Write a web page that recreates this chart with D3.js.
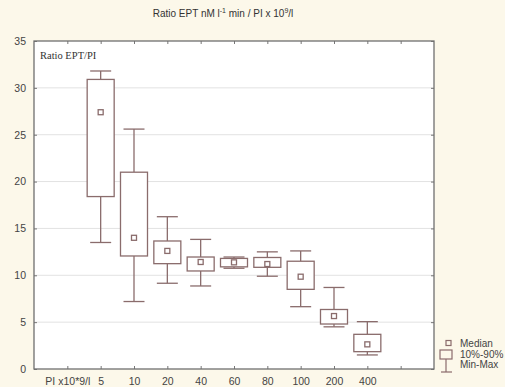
<!DOCTYPE html>
<html><head><meta charset="utf-8">
<script src="https://cdn.jsdelivr.net/npm/d3@7"></script>
<style>html,body{margin:0;padding:0;background:#fcf8ea;}svg{display:block;}</style>
</head><body>
<svg id="chart" width="505" height="387"></svg>
<script>
const categories = ["5","10","20","40","60","80","100","200","400"];
const mins    = [13.5, 7.2, 9.15, 8.86, 10.75, 9.9, 6.65, 4.5, 1.5];
const p10     = [18.4, 12.06, 11.24, 10.46, 10.9, 10.85, 8.5, 4.8, 1.85];
const medians = [27.4, 14.0, 12.6, 11.42, 11.38, 11.2, 9.85, 5.65, 2.63];
const p90     = [30.9, 21.0, 13.66, 11.95, 11.8, 11.9, 11.5, 6.35, 3.7];
const maxs    = [31.8, 25.6, 16.25, 13.83, 11.95, 12.5, 12.6, 8.7, 5.05];
const xTickLabels = ["PI x10*9/l","5","10","20","40","60","80","100","200","400",""];
const yTicks = [0,5,10,15,20,25,30,35];

const svg = d3.select("#chart");
const L=34, R=434, T=41, B=369;
const boxColor = "#8a6c6c";
const slot = d3.scaleBand().domain(["", ...xTickLabels, " "]).range([L, R]).paddingInner(0);
const xc = lbl => slot(lbl) + slot.bandwidth()/2 - slot.bandwidth()/2; // tick at band start offset
// use linear index scale for tick positions
const xi = d3.scaleLinear().domain([0, 12]).range([L, R]);
const y = d3.scaleLinear().domain([0, 35]).range([B, T]);

svg.append("rect").attr("width",505).attr("height",387).attr("fill","#fcf8ea");
svg.append("rect").attr("x",L).attr("y",T).attr("width",R-L).attr("height",B-T).attr("fill","#ffffff");

// grid
svg.append("g").selectAll("line").data(yTicks.filter(d=>d>0 && d<35)).join("line")
  .attr("x1",L).attr("x2",R).attr("y1",d=>y(d)).attr("y2",d=>y(d))
  .attr("stroke","#e2e2e2").attr("stroke-width",1);

// axes
const axL = d3.axisLeft(y).tickValues(yTicks).tickSize(-3).tickPadding(8).tickFormat(d3.format("d"));
const axR = d3.axisRight(y).tickValues(yTicks).tickSize(-3).tickFormat("");
const xIdx = xTickLabels.map((d,i)=>i+1);
const axB = d3.axisBottom(xi).tickValues(xIdx).tickSize(-3).tickPadding(9).tickFormat((d)=>xTickLabels[d-1]);
const axT = d3.axisTop(xi).tickValues(xIdx).tickSize(-3).tickFormat("");
function style(g){g.select(".domain").remove();g.selectAll("line").attr("stroke","#777");g.selectAll("text").attr("fill","#444").attr("font-family","Liberation Sans, Arial, sans-serif").attr("font-size","10.5px");}
svg.append("g").attr("transform",`translate(${L},0)`).call(axL).call(style);
svg.append("g").attr("transform",`translate(${R},0)`).call(axR).call(style);
svg.append("g").attr("transform",`translate(0,${B})`).call(axB).call(style);
svg.append("g").attr("transform",`translate(0,${T})`).call(axT).call(style);
svg.append("rect").attr("x",L).attr("y",T).attr("width",R-L).attr("height",B-T)
  .attr("fill","none").attr("stroke","#6f6f6f").attr("stroke-width",1.3);

// boxes
const data = categories.map((c,i)=>({c, i:i+2, mn:mins[i], lo:p10[i], md:medians[i], hi:p90[i], mx:maxs[i]}));
const bw = 27, cw = 21;
const g = svg.append("g").attr("stroke",boxColor).attr("fill","none").attr("stroke-width",1.3);
const bx = g.selectAll("g").data(data).join("g");
bx.append("line").attr("x1",d=>xi(d.i)).attr("x2",d=>xi(d.i)).attr("y1",d=>y(d.mx)).attr("y2",d=>y(d.hi));
bx.append("line").attr("x1",d=>xi(d.i)).attr("x2",d=>xi(d.i)).attr("y1",d=>y(d.lo)).attr("y2",d=>y(d.mn));
bx.append("line").attr("x1",d=>xi(d.i)-cw/2).attr("x2",d=>xi(d.i)+cw/2).attr("y1",d=>y(d.mx)).attr("y2",d=>y(d.mx));
bx.append("line").attr("x1",d=>xi(d.i)-cw/2).attr("x2",d=>xi(d.i)+cw/2).attr("y1",d=>y(d.mn)).attr("y2",d=>y(d.mn));
bx.append("rect").attr("x",d=>xi(d.i)-bw/2).attr("width",bw).attr("y",d=>y(d.hi)).attr("height",d=>y(d.lo)-y(d.hi)).attr("fill","#fff");
bx.append("rect").attr("x",d=>xi(d.i)-2.5).attr("width",5).attr("y",d=>y(d.md)-2.5).attr("height",5).attr("fill","#fff");

// texts
svg.append("text").attr("x",40).attr("y",59).attr("font-family","Liberation Serif, Times New Roman, serif")
  .attr("font-size","10.5px").attr("fill","#333").text("Ratio EPT/PI");
const t = svg.append("text").attr("x",223).attr("y",17).attr("text-anchor","middle")
  .attr("font-family","Liberation Sans, Arial, sans-serif").attr("font-size","10px").attr("fill","#333");
t.append("tspan").text("Ratio EPT  nM l");
t.append("tspan").attr("dy",-4).attr("font-size","7px").text("-1");
t.append("tspan").attr("dy",4).text(" min / PI x 10");
t.append("tspan").attr("dy",-4).attr("font-size","7px").text("9");
t.append("tspan").attr("dy",4).text("/l");

// legend
const lg = svg.append("g");
lg.append("rect").attr("x",446).attr("y",340.5).attr("width",5).attr("height",5).attr("fill","none").attr("stroke",boxColor).attr("stroke-width",1.2);
lg.append("rect").attr("x",440).attr("y",350).attr("width",12).attr("height",9).attr("fill","none").attr("stroke",boxColor).attr("stroke-width",1.2);
lg.append("line").attr("x1",446).attr("x2",446).attr("y1",359).attr("y2",372).attr("stroke",boxColor).attr("stroke-width",1.2);
lg.append("line").attr("x1",441).attr("x2",452).attr("y1",372).attr("y2",372).attr("stroke",boxColor).attr("stroke-width",1.2);
const legText = ["Median","10%-90%","Min-Max"];
lg.selectAll("text").data(legText).join("text").attr("x",460).attr("y",(d,i)=>347+i*10.5)
  .attr("font-family","Liberation Sans, Arial, sans-serif").attr("font-size","10px").attr("fill","#444").text(d=>d);
</script>
</body></html>
